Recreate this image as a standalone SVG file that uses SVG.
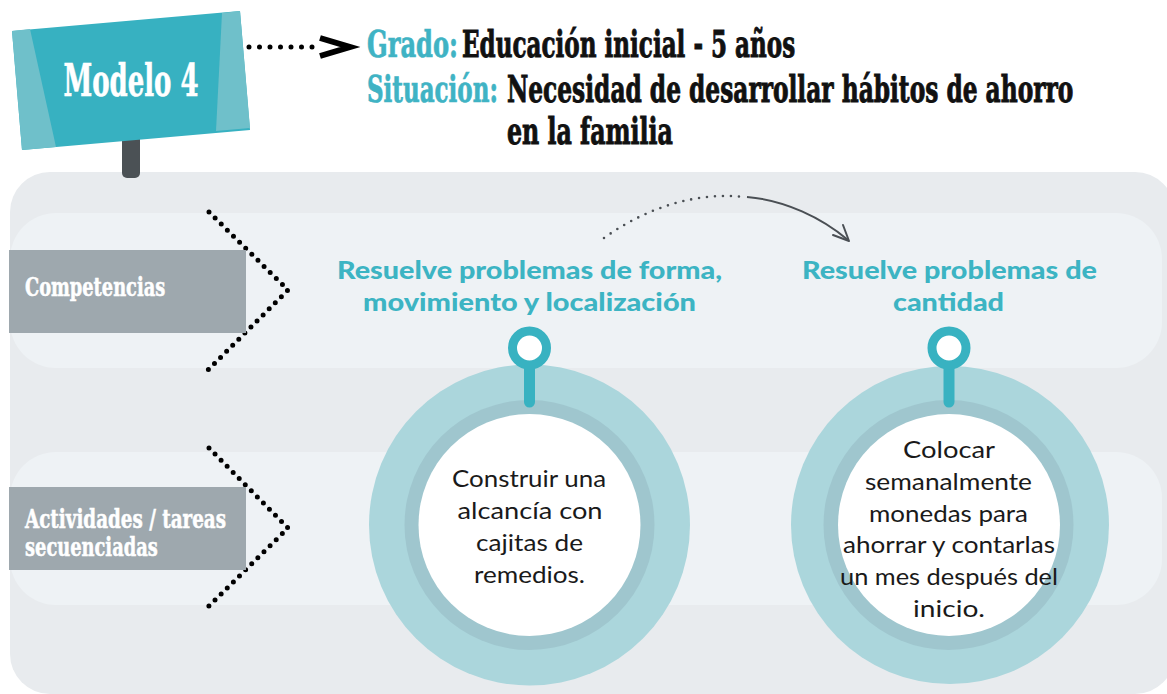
<svg xmlns="http://www.w3.org/2000/svg" width="1167" height="694" viewBox="0 0 1167 694">
<style>
.hd{font-family:"DejaVu Serif Condensed","DejaVu Serif",serif;font-weight:bold;font-stretch:condensed}
.teal{fill:#3fb3c4;stroke:#3fb3c4;stroke-width:0.7}
.blk{fill:#111;stroke:#111;stroke-width:0.9}
.lbl{font-family:"DejaVu Serif Condensed","DejaVu Serif",serif;font-weight:bold;font-stretch:condensed;fill:#fff;font-size:26px;stroke:#fff;stroke-width:0.5}
.comp{font-family:Lato,"Open Sans",sans-serif;font-weight:900;fill:#3cb4c3;font-size:25px;text-anchor:middle}
.body{font-family:Lato,"Open Sans",sans-serif;fill:#1a1a1a;font-size:23px;text-anchor:middle}
.dots{fill:none;stroke:#000;stroke-width:5;stroke-linecap:round;stroke-dasharray:0 8.6}
.outer{fill:#abd6dc}
.mid{fill:#9fc6ce}
.inner{fill:#fff}
.pin{fill:#fff;stroke:#38b2c1;stroke-width:9}
.stem{stroke:#38b2c1;stroke-width:11;stroke-linecap:round}
</style>
<rect width="1167" height="694" fill="#fff"/>
<g id="panel">
<rect x="10" y="172" width="1165" height="522" rx="40" fill="#e8ebee"/>
<rect x="10" y="213" width="1152" height="155" rx="46" fill="#eef2f5"/>
<rect x="10" y="452" width="1152" height="153" rx="46" fill="#eef2f5"/>
</g>
<g id="sign">
<rect x="122" y="133" width="18" height="45" rx="5" fill="#4b5155"/>
<polygon points="12,31 240,11 250,130 22,150" fill="#37b1c1"/>
<polygon points="12,31 30,29 56,147 22,150" fill="#6fc0ca"/>
<polygon points="222,13 240,11 250,128 216,131" fill="#6fc0ca"/>
<text transform="translate(131,96) scale(0.75,1)" class="hd" fill="#fff" stroke="#fff" stroke-width="0.6" font-size="44" text-anchor="middle" textLength="180" lengthAdjust="spacingAndGlyphs">Modelo 4</text>
</g>
<g id="connectors">
<line x1="249" y1="47" x2="316" y2="47" stroke="#000" stroke-width="5" stroke-linecap="round" stroke-dasharray="0 10.5"/>
<polyline points="320,38 350,47 320,56" fill="none" stroke="#000" stroke-width="6" stroke-linejoin="miter"/>
<polyline class="dots" points="209,212 288,290 208,370"/>
<polyline class="dots" points="209,448 288,528 208,607"/>
<path d="M604,238 C650,205 700,192 745,197" fill="none" stroke="#4a4f54" stroke-width="2.6" stroke-linecap="round" stroke-dasharray="0 8"/>
<path d="M747,197 C785,200 822,218 848,240" fill="none" stroke="#4a4f54" stroke-width="2"/>
<polyline points="843,225 849,241 833,235" fill="none" stroke="#4a4f54" stroke-width="2" stroke-linecap="round" stroke-linejoin="round"/>
</g>
<g id="title">
<text transform="translate(367,57) scale(0.7,1)" class="hd teal" font-size="38" textLength="130" lengthAdjust="spacingAndGlyphs">Grado:</text>
<text transform="translate(462,57) scale(0.7,1)" class="hd blk" font-size="38" textLength="476" lengthAdjust="spacingAndGlyphs">Educación inicial - 5 años</text>
<text transform="translate(367,102) scale(0.7,1)" class="hd teal" font-size="38" textLength="187" lengthAdjust="spacingAndGlyphs">Situación:</text>
<text transform="translate(507,102) scale(0.7,1)" class="hd blk" font-size="38" textLength="809" lengthAdjust="spacingAndGlyphs">Necesidad de desarrollar hábitos de ahorro</text>
<text transform="translate(507,144) scale(0.7,1)" class="hd blk" font-size="38" textLength="237" lengthAdjust="spacingAndGlyphs">en la familia</text>
</g>
<g id="label-competencias">
<rect x="9" y="250" width="237" height="83" fill="#9ea8ae"/>
<text transform="translate(25,296) scale(0.75,1)" class="lbl" font-size="28" textLength="187" lengthAdjust="spacingAndGlyphs">Competencias</text>
</g>
<g id="label-actividades">
<rect x="9" y="487" width="237" height="83" fill="#9ea8ae"/>
<text transform="translate(25,528) scale(0.75,1)" class="lbl" textLength="268" lengthAdjust="spacingAndGlyphs">Actividades / tareas</text>
<text transform="translate(25,556) scale(0.75,1)" class="lbl" textLength="177" lengthAdjust="spacingAndGlyphs">secuenciadas</text>
</g>
<g id="comp-1">
<text x="529.5" y="279" class="comp" textLength="385" lengthAdjust="spacingAndGlyphs">Resuelve problemas de forma,</text>
<text x="529.5" y="311" class="comp" textLength="333" lengthAdjust="spacingAndGlyphs">movimiento y localización</text>
</g>
<g id="comp-2">
<text x="949.5" y="279" class="comp" textLength="295" lengthAdjust="spacingAndGlyphs">Resuelve problemas de</text>
<text x="948.5" y="311" class="comp" textLength="111" lengthAdjust="spacingAndGlyphs">cantidad</text>
</g>
<g id="activity-1">
<circle cx="529.5" cy="525" r="160.5" class="outer"/>
<circle cx="529.5" cy="525" r="125" class="mid"/>
<circle cx="529.5" cy="525" r="111" class="inner"/>
<line x1="529.5" y1="365" x2="529.5" y2="402" class="stem"/>
<circle cx="529.5" cy="348" r="17" class="pin"/>
<text class="body"><tspan x="529" y="487" textLength="154" lengthAdjust="spacingAndGlyphs">Construir una</tspan><tspan x="530" y="519" textLength="145" lengthAdjust="spacingAndGlyphs">alcancía con</tspan><tspan x="529.5" y="551" textLength="107" lengthAdjust="spacingAndGlyphs">cajitas de</tspan><tspan x="529.5" y="583" textLength="111" lengthAdjust="spacingAndGlyphs">remedios.</tspan></text>
</g>
<g id="activity-2">
<circle cx="950" cy="525" r="159" class="outer"/>
<circle cx="948.5" cy="525" r="125" class="mid"/>
<circle cx="949" cy="525" r="111" class="inner"/>
<line x1="949" y1="365" x2="949" y2="402" class="stem"/>
<circle cx="949" cy="348" r="17" class="pin"/>
<text class="body"><tspan x="949" y="458" textLength="92" lengthAdjust="spacingAndGlyphs">Colocar</tspan><tspan x="948.5" y="490" textLength="167" lengthAdjust="spacingAndGlyphs">semanalmente</tspan><tspan x="948.5" y="522" textLength="159" lengthAdjust="spacingAndGlyphs">monedas para</tspan><tspan x="949" y="553" textLength="212" lengthAdjust="spacingAndGlyphs">ahorrar y contarlas</tspan><tspan x="949" y="585" textLength="218" lengthAdjust="spacingAndGlyphs">un mes después del</tspan><tspan x="949" y="617" textLength="72" lengthAdjust="spacingAndGlyphs">inicio.</tspan></text>
</g>
</svg>
